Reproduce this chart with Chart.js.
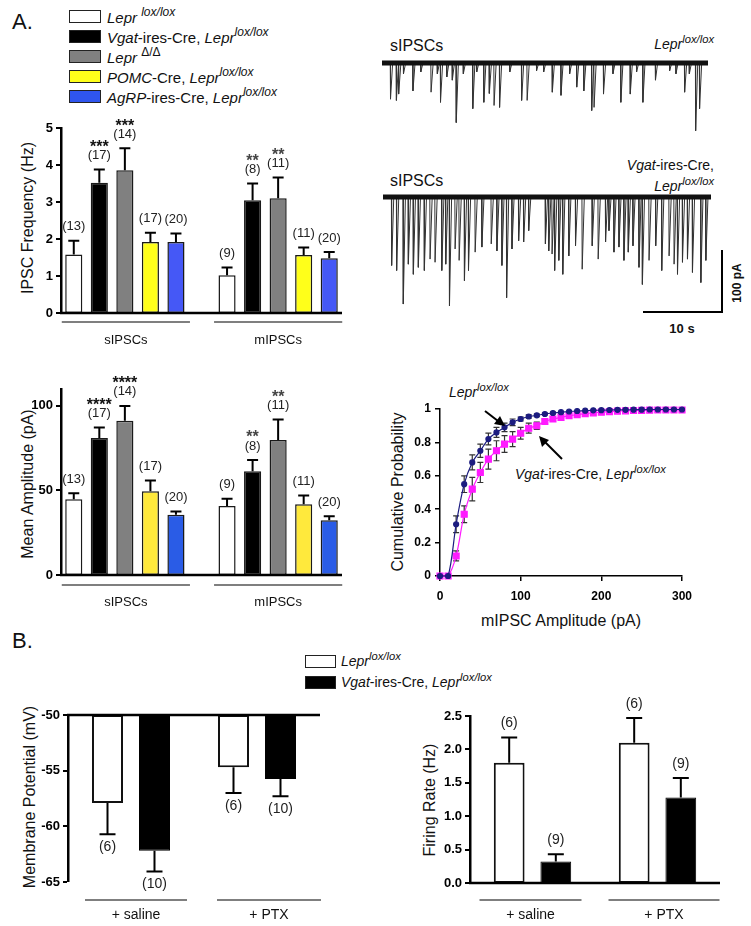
<!DOCTYPE html>
<html>
<head>
<meta charset="utf-8">
<script src="https://cdn.jsdelivr.net/npm/chart.js@4.4.0/dist/chart.umd.min.js"></script>
<style>
body { margin: 0; background: #fff; font-family: "Liberation Sans", Arial, sans-serif; color: #111; }
#page { position: relative; width: 751px; height: 926px; overflow: hidden; }
.t { position: absolute; white-space: nowrap; line-height: 1; }
.c { transform: translate(-50%, -50%); }
.l { transform: translate(0, -50%); }
.r { transform: translate(-100%, -50%); }
.rot { transform: translate(-50%, -50%) rotate(-90deg); }
.sw { position: absolute; width: 32px; height: 13px; border: 1.5px solid #222; box-sizing: border-box; }
sup { font-size: 0.8em; vertical-align: 0.55em; line-height: 0; font-style: italic; }
canvas { position: absolute; }
</style>
</head>
<body>
<div id="page">
  <!-- panel A legend -->
  <div class="t l" style="left:12px;top:22px;font-size:22px">A.</div>
  <div class="sw" style="left:69px;top:10px;background:#fff"></div>
  <div class="t l" style="left:107px;top:17px;font-size:15px"><i>Lepr</i> <sup>lox/lox</sup></div>
  <div class="sw" style="left:69px;top:30px;background:#000"></div>
  <div class="t l" style="left:107px;top:37px;font-size:15px"><i>Vgat</i>-ires-Cre, <i>Lepr</i><sup>lox/lox</sup></div>
  <div class="sw" style="left:69px;top:50px;background:#808080"></div>
  <div class="t l" style="left:107px;top:57px;font-size:15px"><i>Lepr</i> <sup style="font-style:normal">&Delta;/&Delta;</sup></div>
  <div class="sw" style="left:69px;top:70px;background:#ffff1a"></div>
  <div class="t l" style="left:107px;top:77px;font-size:15px"><i>POMC</i>-Cre, <i>Lepr</i><sup>lox/lox</sup></div>
  <div class="sw" style="left:69px;top:90px;background:#2f55ee"></div>
  <div class="t l" style="left:107px;top:97px;font-size:15px"><i>AgRP</i>-ires-Cre, <i>Lepr</i><sup>lox/lox</sup></div>

  <!-- axis titles -->
  <div class="t rot" style="left:28px;top:218px;font-size:16px">IPSC Frequency (Hz)</div>
  <div class="t rot" style="left:28px;top:484px;font-size:16px">Mean Amplitude (pA)</div>
  <div class="t rot" style="left:398px;top:492px;font-size:16px">Cumulative Probability</div>
  <div class="t c" style="left:561px;top:621px;font-size:16px">mIPSC Amplitude (pA)</div>
  <div class="t rot" style="left:30px;top:797px;font-size:16px">Membrane Potential (mV)</div>
  <div class="t rot" style="left:430px;top:800px;font-size:16px">Firing Rate (Hz)</div>

  <!-- trace labels -->
  <div class="t l" style="left:390px;top:46px;font-size:16px">sIPSCs</div>
  <div class="t r" style="left:714px;top:44px;font-size:14px"><i>Lepr</i><sup>lox/lox</sup></div>
  <div class="t l" style="left:390px;top:181px;font-size:16px">sIPSCs</div>
  <div class="t r" style="left:714px;top:165px;font-size:14px"><i>Vgat</i>-ires-Cre,</div>
  <div class="t r" style="left:714px;top:186px;font-size:14px"><i>Lepr</i><sup>lox/lox</sup></div>

  <!-- scale bar -->
  <div style="position:absolute;left:721px;top:250px;width:2px;height:63px;background:#000"></div>
  <div style="position:absolute;left:643px;top:311px;width:80px;height:2px;background:#000"></div>
  <div class="t rot" style="left:737px;top:283px;font-size:12px;font-weight:bold">100 pA</div>
  <div class="t c" style="left:682px;top:328px;font-size:13px;font-weight:bold">10 s</div>

  <!-- cumulative annotations -->
  <div class="t l" style="left:449px;top:392px;font-size:14px"><i>Lepr</i><sup>lox/lox</sup></div>
  <div class="t l" style="left:515px;top:474px;font-size:14px"><i>Vgat</i>-ires-Cre, <i>Lepr</i><sup>lox/lox</sup></div>

  <!-- panel B legend -->
  <div class="t l" style="left:12px;top:641px;font-size:22px">B.</div>
  <div class="sw" style="left:305px;top:655px;width:31px;background:#fff"></div>
  <div class="t l" style="left:341px;top:661px;font-size:14px"><i>Lepr</i><sup>lox/lox</sup></div>
  <div class="sw" style="left:305px;top:676px;width:31px;background:#000"></div>
  <div class="t l" style="left:341px;top:682px;font-size:14px"><i>Vgat</i>-ires-Cre, <i>Lepr</i><sup>lox/lox</sup></div>

  <canvas id="trace1" width="326" height="81" style="left:382px;top:58px"></canvas>
  <canvas id="trace2" width="328" height="119" style="left:383px;top:192px"></canvas>
  <canvas id="freq" width="350" height="240" style="left:0;top:110px"></canvas>
  <canvas id="amp" width="350" height="260" style="left:0;top:360px"></canvas>
  <canvas id="cum" width="330" height="250" style="left:380px;top:380px"></canvas>
  <canvas id="vm" width="340" height="230" style="left:0;top:700px"></canvas>
  <canvas id="fr" width="340" height="250" style="left:400px;top:680px"></canvas>

  <svg style="position:absolute;left:0;top:0" width="751" height="926">
    <g stroke="#000" stroke-width="2" fill="#000">
      <line x1="485" y1="411" x2="498" y2="421"/>
      <polygon points="505,426 494,424 500,416" stroke="none"/>
      <line x1="562" y1="459" x2="545" y2="442"/>
      <polygon points="539,436 549,440 542,447" stroke="none"/>
    </g>
  </svg>
</div>

<script>
// ---- data ----
const slots = ['s-lox', 's-vgat', 's-delta', 's-pomc', 's-agrp', '', 'm-lox', 'm-vgat', 'm-delta', 'm-pomc', 'm-agrp'];
const slotColors = ['#ffffff', '#000000', '#808080', '#ffff1a', '#4558f6', null, '#ffffff', '#000000', '#808080', '#ffff1a', '#4558f6'];
const ampColors = ['#ffffff', '#000000', '#808080', '#ffe93c', '#2a5ce6', null, '#ffffff', '#000000', '#808080', '#ffe93c', '#2a5ce6'];
const nCells = ['(13)', '(17)', '(14)', '(17)', '(20)', '', '(9)', '(8)', '(11)', '(11)', '(20)'];

const freqMean = [1.58, 3.52, 3.86, 1.92, 1.92, null, 1.02, 3.05, 3.10, 1.57, 1.48];
const freqSem = [0.37, 0.36, 0.59, 0.25, 0.23, null, 0.21, 0.45, 0.56, 0.20, 0.17];
const freqStars = ['', '***', '***', '', '', '', '', '**', '**', '', ''];

const ampMean = [44.8, 81.0, 91.2, 49.6, 35.7, null, 40.8, 61.4, 79.8, 41.8, 32.4];
const ampSem = [3.6, 6.3, 8.8, 6.3, 1.9, null, 4.3, 6.6, 12.2, 5.2, 2.3];
const ampStars = ['', '****', '****', '', '', '', '', '**', '**', '', ''];

const cumBins = [0, 10, 20, 30, 40, 50, 60, 70, 80, 90, 100, 110, 120, 130, 140, 150, 160, 170, 180, 190, 200, 210, 220, 230, 240, 250, 260, 270, 280, 290, 300];
const cumLepr = [0, 0, 0.31, 0.55, 0.68, 0.75, 0.82, 0.86, 0.89, 0.92, 0.94, 0.955, 0.962, 0.97, 0.976, 0.981, 0.985, 0.988, 0.99, 0.992, 0.993, 0.994, 0.995, 0.995, 0.996, 0.996, 0.997, 0.997, 0.997, 0.997, 0.997];
const cumLeprErr = [0, 0, 0.05, 0.05, 0.045, 0.04, 0.035, 0.03, 0.025, 0.02, 0.012, 0.01, 0.008, 0.006, 0.005, 0.004, 0, 0, 0, 0, 0, 0, 0, 0, 0, 0, 0, 0, 0, 0, 0];
const cumVgat = [0, 0, 0.12, 0.37, 0.52, 0.62, 0.70, 0.75, 0.79, 0.82, 0.855, 0.885, 0.90, 0.925, 0.94, 0.95, 0.96, 0.966, 0.972, 0.977, 0.981, 0.984, 0.987, 0.989, 0.991, 0.992, 0.993, 0.994, 0.994, 0.994, 0.994];
const cumVgatErr = [0, 0, 0.03, 0.05, 0.07, 0.06, 0.06, 0.06, 0.05, 0.045, 0.035, 0.03, 0.022, 0.016, 0.012, 0.01, 0.008, 0.006, 0.005, 0, 0, 0, 0, 0, 0, 0, 0, 0, 0, 0, 0];

// sIPSC events: time (s) and amplitude (pA)
const trace1Times = [1.05, 1.8, 2.1, 2.7, 3.9, 4.9, 6.2, 7.0, 7.4, 8.2, 8.9, 9.4, 10.3, 11.5, 12.0, 12.9, 13.6, 14.2, 14.9, 16.2, 17.7, 18.4, 19.6, 20.5, 21.6, 22.7, 23.8, 24.7, 25.6, 26.6, 26.9, 28.1, 29.3, 30.3, 31.5, 32.3, 33.1, 34.7, 36.5, 37.3, 38.4, 39.0, 39.8, 40.3];
const trace1Amps = [57, 59, 49, 17, 44, 14, 46, 17, 62, 22, 27, 94, 17, 72, 14, 62, 48, 67, 70, 14, 59, 59, 12, 14, 46, 51, 17, 38, 44, 75, 70, 49, 17, 62, 49, 14, 62, 27, 12, 17, 46, 17, 107, 72];
const trace2Times = [1.06, 1.69, 2.53, 3.17, 3.80, 4.43, 5.19, 5.91, 6.54, 7.39, 7.89, 8.36, 9.07, 9.58, 10.25, 10.76, 11.6, 12.45, 13.63, 14.35, 14.98, 15.57, 16.25, 17.09, 17.72, 18.36, 20.47, 20.89, 21.31, 21.65, 22.16, 22.66, 23.42, 24.27, 25.11, 26.38, 27.13, 28.06, 28.49, 29.12, 29.75, 30.38, 30.93, 31.52, 32.28, 32.71, 33.55, 34.39, 35.15, 36.08, 36.71, 37.14, 37.77, 38.4, 39.03, 40.09, 40.72];
const trace2Amps = [108, 116, 169, 106, 122, 111, 116, 98, 103, 116, 106, 172, 82, 100, 132, 116, 87, 79, 74, 85, 108, 159, 82, 69, 71, 53, 74, 85, 90, 116, 100, 122, 93, 77, 114, 77, 98, 71, 53, 87, 79, 100, 87, 77, 111, 138, 100, 77, 116, 93, 106, 122, 103, 98, 119, 135, 100];
const traceEnd = 41.4;

const conditions = ['+ saline', '+ PTX'];
const vmLepr = [-57.9, -54.7];
const vmLeprSem = [2.8, 2.3];
const vmVgat = [-62.2, -55.75];
const vmVgatSem = [1.85, 1.55];
const frLepr = [1.80, 2.10];
const frLeprSem = [0.38, 0.37];
const frVgat = [0.32, 1.28];
const frVgatSem = [0.11, 0.29];
const nLeprB = ['(6)', '(6)'];
const nVgatVm = ['(10)', '(10)'];
const nVgatFr = ['(9)', '(9)'];

Chart.defaults.font.family = "'Liberation Sans', Arial, sans-serif";
Chart.defaults.color = '#000';

// error bars + n labels + stars for bar charts
const barNotes = {
  id: 'barNotes',
  afterDatasetsDraw(chart, args, o) {
    const ctx = chart.ctx, ys = chart.scales.y;
    const dir = o.down ? -1 : 1;
    ctx.save();
    chart.data.datasets.forEach((ds, di) => {
      const meta = chart.getDatasetMeta(di);
      meta.data.forEach((bar, i) => {
        let v = ds.data[i];
        if (v == null) return;
        if (Array.isArray(v)) v = v[1];
        const py = ys.getPixelForValue(v);
        const pc = ys.getPixelForValue(v + dir * ds.sem[i]);
        ctx.strokeStyle = '#000';
        ctx.lineWidth = 2;
        ctx.beginPath();
        ctx.moveTo(bar.x, py); ctx.lineTo(bar.x, pc);
        ctx.moveTo(bar.x - o.cap / 2, pc); ctx.lineTo(bar.x + o.cap / 2, pc);
        ctx.stroke();
        ctx.fillStyle = '#222';
        ctx.textAlign = 'center';
        ctx.textBaseline = 'middle';
        ctx.font = o.nFont;
        ctx.fillText(ds.nLabels[i], bar.x, pc - dir * o.nGap);
        if (ds.stars && ds.stars[i]) {
          ctx.font = 'bold 16px "Liberation Sans", Arial';
          ctx.fillStyle = ds.stars[i].length > 2 ? '#111' : '#444';
          ctx.fillText(ds.stars[i], bar.x, pc - o.nGap - o.starGap + 5);
        }
      });
    });
    ctx.restore();
  }
};

// axis baseline, grey group rules and group names below a bar chart
const groupRules = {
  id: 'groupRules',
  afterDraw(chart, args, o) {
    const ctx = chart.ctx, xs = chart.scales.x, ys = chart.scales.y, a = chart.chartArea;
    const b = ys.getPixelForValue(ys.min);
    const ay = o.axisTop ? ys.getPixelForValue(ys.max) : b;
    ctx.save();
    ctx.strokeStyle = '#000';
    ctx.lineWidth = 2.5;
    ctx.beginPath();
    ctx.moveTo(a.left - 1, ay); ctx.lineTo(a.right, ay);
    ctx.stroke();
    o.groups.forEach(g => {
      const x0 = xs.getPixelForValue(g.from) + g.dl;
      const x1 = xs.getPixelForValue(g.to) + g.dr;
      ctx.strokeStyle = '#555';
      ctx.lineWidth = 1.5;
      ctx.beginPath();
      ctx.moveTo(x0, b + o.lineGap); ctx.lineTo(x1, b + o.lineGap);
      ctx.stroke();
      ctx.fillStyle = '#111';
      ctx.font = o.font;
      ctx.textAlign = 'center';
      ctx.textBaseline = 'middle';
      ctx.fillText(g.label, (x0 + x1) / 2, b + o.labelGap);
    });
    ctx.restore();
  }
};

// grid lineWidth 0 keeps the bars sitting right on the axis; tickWidth draws the tick marks
function yAxis(min, max, step, width, extra) {
  return Object.assign({
    min: min, max: max,
    afterFit: s => { s.width = width; },
    grid: { drawOnChartArea: false, drawTicks: true, tickLength: 5, lineWidth: 0, tickWidth: 2, tickColor: '#000', color: '#000' },
    border: { display: true, width: 2.5, color: '#000' },
    ticks: { stepSize: step, color: '#000', font: { size: 13, weight: 'bold' }, padding: 3 }
  }, extra || {});
}

function xAxis(h, extra) {
  return Object.assign({
    afterFit: s => { s.height = h; },
    grid: { display: false },
    border: { display: false },
    ticks: { display: false }
  }, extra || {});
}

const baseOpts = { animation: false, responsive: false, events: [] };

function slotChart(id, means, sems, stars, colors, yMin, yMax, step, padTop, xH, lineGap, labelGap, extraY) {
  new Chart(document.getElementById(id), {
    type: 'bar',
    data: {
      labels: slots,
      datasets: [{
        data: means, sem: sems, nLabels: nCells, stars: stars,
        backgroundColor: colors, borderColor: '#1a1a1a', borderWidth: 1.5, borderSkipped: false,
        inflateAmount: 0, categoryPercentage: 1, barPercentage: 0.67
      }]
    },
    options: Object.assign({}, baseOpts, {
      layout: { padding: { top: padTop, right: 8, left: 0, bottom: 0 } },
      plugins: {
        legend: { display: false }, tooltip: { enabled: false },
        barNotes: { cap: 11, nGap: 14, starGap: 13, nFont: '13px "Liberation Sans", Arial' },
        groupRules: {
          lineGap: lineGap, labelGap: labelGap, font: '13px "Liberation Sans", Arial',
          groups: [
            { from: 0, to: 4, dl: -12, dr: 14, label: 'sIPSCs' },
            { from: 6, to: 10, dl: -13, dr: 13, label: 'mIPSCs' }
          ]
        }
      },
      scales: { x: xAxis(xH), y: yAxis(yMin, yMax, step, 61, extraY) }
    }),
    plugins: [barNotes, groupRules]
  });
}

slotChart('freq', freqMean, freqSem, freqStars, slotColors, 0, 5, 1, 18, 37, 9, 27);
slotChart('amp', ampMean, ampSem, ampStars, ampColors, 0, 110, 50, 29, 45, 10, 27,
  { afterBuildTicks: s => { s.ticks = s.ticks.filter(t => t.value % 50 === 0); } });

// membrane potential: bars hang from -50 mV
new Chart(document.getElementById('vm'), {
  type: 'bar',
  data: {
    labels: conditions,
    datasets: [
      { data: vmLepr.map(v => [-50, v]), sem: vmLeprSem, nLabels: nLeprB, backgroundColor: '#fff', borderColor: '#111', borderWidth: 2, borderSkipped: false, inflateAmount: 0, categoryPercentage: 0.746, barPercentage: 0.66 },
      { data: vmVgat.map(v => [-50, v]), sem: vmVgatSem, nLabels: nVgatVm, backgroundColor: '#000', borderColor: '#000', borderWidth: 1, borderSkipped: false, inflateAmount: 0, categoryPercentage: 0.746, barPercentage: 0.66 }
    ]
  },
  options: Object.assign({}, baseOpts, {
    layout: { padding: { top: 15, right: 20, left: 0, bottom: 48 } },
    plugins: {
      legend: { display: false }, tooltip: { enabled: false },
      barNotes: { down: true, cap: 16, nGap: 13, starGap: 0, nFont: '14px "Liberation Sans", Arial' },
      groupRules: {
        axisTop: true, lineGap: 18, labelGap: 33, font: '14px "Liberation Sans", Arial',
        groups: [
          { from: 0, to: 0, dl: -46, dr: 56, label: conditions[0] },
          { from: 1, to: 1, dl: -40, dr: 64, label: conditions[1] }
        ]
      }
    },
    scales: {
      x: xAxis(0, { position: 'top' }),
      y: yAxis(-65, -50, 5, 68)
    }
  }),
  plugins: [barNotes, groupRules]
});

// firing rate
new Chart(document.getElementById('fr'), {
  type: 'bar',
  data: {
    labels: conditions,
    datasets: [
      { data: frLepr, sem: frLeprSem, nLabels: nLeprB, backgroundColor: '#fff', borderColor: '#111', borderWidth: 2, borderSkipped: false, inflateAmount: 0, categoryPercentage: 0.746, barPercentage: 0.66 },
      { data: frVgat, sem: frVgatSem, nLabels: nVgatFr, backgroundColor: '#000', borderColor: '#000', borderWidth: 1, borderSkipped: false, inflateAmount: 0, categoryPercentage: 0.746, barPercentage: 0.66 }
    ]
  },
  options: Object.assign({}, baseOpts, {
    layout: { padding: { top: 36, right: 20, left: 0, bottom: 47 } },
    plugins: {
      legend: { display: false }, tooltip: { enabled: false },
      barNotes: { cap: 16, nGap: 14, starGap: 0, nFont: '14px "Liberation Sans", Arial' },
      groupRules: {
        lineGap: 17, labelGap: 32, font: '14px "Liberation Sans", Arial',
        groups: [
          { from: 0, to: 0, dl: -53, dr: 49, label: conditions[0] },
          { from: 1, to: 1, dl: -49, dr: 62, label: conditions[1] }
        ]
      }
    },
    scales: {
      x: xAxis(0),
      y: yAxis(0, 2.5, 0.5, 70, { ticks: { stepSize: 0.5, color: '#000', font: { size: 13, weight: 'bold' }, padding: 3, callback: v => v.toFixed(1) } })
    }
  }),
  plugins: [barNotes, groupRules]
});

// cumulative probability with SEM bars
const cumErrors = {
  id: 'cumErrors',
  beforeDatasetsDraw(chart) {
    const ctx = chart.ctx, xs = chart.scales.x, ys = chart.scales.y;
    ctx.save();
    ctx.strokeStyle = '#333';
    ctx.lineWidth = 1.2;
    chart.data.datasets.forEach(ds => {
      ds.data.forEach((p, i) => {
        const e = ds.err[i];
        if (!e) return;
        const px = xs.getPixelForValue(p.x);
        const y0 = ys.getPixelForValue(p.y - e), y1 = ys.getPixelForValue(p.y + e);
        ctx.beginPath();
        ctx.moveTo(px, y0); ctx.lineTo(px, y1);
        ctx.moveTo(px - 3, y0); ctx.lineTo(px + 3, y0);
        ctx.moveTo(px - 3, y1); ctx.lineTo(px + 3, y1);
        ctx.stroke();
      });
    });
    ctx.restore();
  }
};

new Chart(document.getElementById('cum'), {
  type: 'line',
  data: {
    datasets: [
      { data: cumBins.map((x, i) => ({ x: x, y: cumLepr[i] })), err: cumLeprErr, borderColor: '#1c1c80', backgroundColor: '#1c1c80', borderWidth: 1.2, pointRadius: 2.5, pointStyle: 'circle', tension: 0.3, clip: false },
      { data: cumBins.map((x, i) => ({ x: x, y: cumVgat[i] })), err: cumVgatErr, borderColor: '#ff1aff', backgroundColor: '#ff1aff', borderWidth: 1.2, pointRadius: 4.2, pointStyle: 'rect', tension: 0.3, clip: false }
    ]
  },
  options: Object.assign({}, baseOpts, {
    layout: { padding: { top: 29, right: 28, left: 0, bottom: 0 } },
    plugins: { legend: { display: false }, tooltip: { enabled: false } },
    scales: {
      x: {
        type: 'linear', min: 0, max: 300,
        afterFit: s => { s.height = 54; },
        grid: { drawOnChartArea: false, tickLength: 5, lineWidth: 1.5, color: '#000' },
        border: { display: true, width: 1.5, color: '#000' },
        ticks: { stepSize: 100, color: '#000', font: { size: 12, weight: 'bold' }, padding: 8 }
      },
      y: {
        min: 0, max: 1,
        afterFit: s => { s.width = 60; },
        grid: { drawOnChartArea: false, tickLength: 5, lineWidth: 1.5, color: '#000' },
        border: { display: true, width: 1.5, color: '#000' },
        ticks: { stepSize: 0.2, color: '#000', font: { size: 12, weight: 'bold' }, padding: 4,
          callback: v => (v === 0 ? '0' : v === 1 ? '1' : v.toFixed(1)) }
      }
    }
  }),
  plugins: [cumErrors]
});

// raw current traces
function traceLine(times, amps) {
  const pts = [];
  times.forEach((t, i) => {
    pts.push({ x: t, y: 0 }, { x: t + 0.03, y: -amps[i] }, { x: t + 0.3, y: 0 });
  });
  return pts;
}

function traceChart(id, times, amps, yMin) {
  new Chart(document.getElementById(id), {
    type: 'line',
    data: {
      datasets: [
        { data: [{ x: 0, y: 0 }, { x: traceEnd, y: 0 }], borderColor: '#111', borderWidth: 5, pointRadius: 0 },
        { data: traceLine(times, amps), borderColor: '#333', borderWidth: 1, pointRadius: 0, tension: 0 }
      ]
    },
    options: Object.assign({}, baseOpts, {
      layout: { padding: 0 },
      plugins: { legend: { display: false }, tooltip: { enabled: false } },
      scales: {
        x: { type: 'linear', display: false, min: 0, max: traceEnd },
        y: { display: false, min: yMin, max: 8 }
      }
    })
  });
}

traceChart('trace1', trace1Times, trace1Amps, -120);
traceChart('trace2', trace2Times, trace2Amps, -180);
</script>
</body>
</html>
